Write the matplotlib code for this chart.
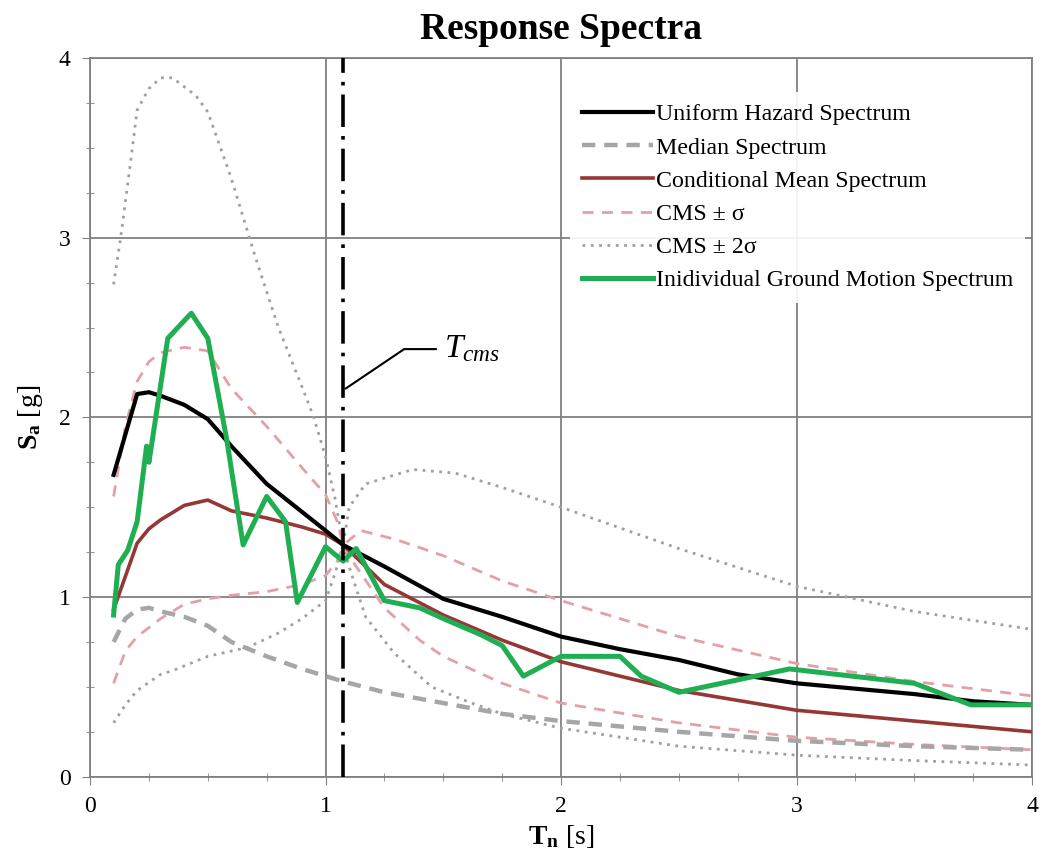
import matplotlib
matplotlib.use("Agg")
import matplotlib.pyplot as plt
from matplotlib.ticker import MultipleLocator

plt.rcParams['font.family'] = ['Liberation Serif', 'DejaVu Serif']
plt.rcParams['mathtext.fontset'] = 'custom'
plt.rcParams['mathtext.rm'] = 'Liberation Serif'
plt.rcParams['mathtext.it'] = 'Liberation Serif:italic'
plt.rcParams['mathtext.bf'] = 'Liberation Serif:bold'

# ---------------- data ----------------
T_cms = 1.075

uhs_T = [0.1, 0.2, 0.25, 0.3, 0.4, 0.5, 0.6, 0.75, 1.0, 1.075, 1.25, 1.5, 1.75, 2.0, 2.25, 2.5, 2.75, 3.0, 3.5, 3.75, 4.0]
uhs_Sa = [1.68, 2.13, 2.14, 2.12, 2.07, 1.99, 1.84, 1.63, 1.37, 1.29, 1.17, 0.99, 0.89, 0.78, 0.71, 0.65, 0.57, 0.52, 0.46, 0.42, 0.40]

med_T = [0.1, 0.15, 0.2, 0.25, 0.3, 0.4, 0.5, 0.6, 0.75, 0.9, 1.0, 1.075, 1.25, 1.5, 1.75, 2.0, 2.5, 3.0, 3.5, 4.0]
med_Sa = [0.75, 0.88, 0.93, 0.94, 0.92, 0.89, 0.84, 0.75, 0.67, 0.60, 0.56, 0.53, 0.47, 0.41, 0.35, 0.31, 0.25, 0.20, 0.17, 0.15]

cms_T = [0.1, 0.2, 0.25, 0.3, 0.4, 0.5, 0.6, 0.75, 0.9, 1.0, 1.075, 1.25, 1.5, 1.75, 2.0, 2.5, 3.0, 3.5, 4.0]
cms_Sa = [0.93, 1.30, 1.38, 1.43, 1.51, 1.54, 1.48, 1.44, 1.39, 1.35, 1.29, 1.07, 0.90, 0.76, 0.64, 0.48, 0.37, 0.31, 0.25]

p1_T = [0.1, 0.15, 0.2, 0.25, 0.3, 0.4, 0.5, 0.6, 0.75, 0.9, 1.0, 1.05, 1.075, 1.15, 1.3, 1.5, 1.75, 2.0, 2.5, 3.0, 3.5, 4.0]
p1_Sa = [1.56, 1.95, 2.20, 2.31, 2.36, 2.39, 2.37, 2.16, 1.95, 1.72, 1.57, 1.42, 1.29, 1.37, 1.32, 1.23, 1.09, 0.98, 0.78, 0.63, 0.53, 0.45]

m1_T = [0.1, 0.15, 0.2, 0.3, 0.4, 0.5, 0.6, 0.75, 0.9, 1.0, 1.05, 1.075, 1.12, 1.25, 1.4, 1.5, 1.75, 2.0, 2.5, 3.0, 3.5, 4.0]
m1_Sa = [0.52, 0.70, 0.78, 0.88, 0.96, 0.99, 1.01, 1.03, 1.07, 1.12, 1.20, 1.29, 1.19, 0.94, 0.76, 0.67, 0.52, 0.41, 0.30, 0.22, 0.18, 0.15]

p2_T = [0.1, 0.13, 0.17, 0.2, 0.25, 0.3, 0.35, 0.45, 0.5, 0.6, 0.7, 0.8, 0.9, 0.95, 1.0, 1.04, 1.075, 1.1, 1.17, 1.37, 1.55, 1.75, 2.0, 2.5, 3.0, 3.5, 4.0]
p2_Sa = [2.74, 3.00, 3.40, 3.71, 3.83, 3.89, 3.89, 3.79, 3.70, 3.33, 2.90, 2.50, 2.17, 2.00, 1.78, 1.55, 1.29, 1.50, 1.63, 1.71, 1.69, 1.61, 1.50, 1.27, 1.06, 0.92, 0.82]

m2_T = [0.1, 0.15, 0.2, 0.3, 0.35, 0.5, 0.67, 0.8, 0.9, 1.0, 1.04, 1.075, 1.1, 1.17, 1.29, 1.45, 1.62, 1.75, 2.0, 2.5, 3.0, 3.5, 4.0]
m2_Sa = [0.30, 0.40, 0.48, 0.57, 0.59, 0.67, 0.72, 0.80, 0.88, 0.98, 1.13, 1.29, 1.17, 0.89, 0.69, 0.50, 0.41, 0.35, 0.27, 0.17, 0.12, 0.09, 0.065]

gm_T = [0.1, 0.12, 0.16, 0.2, 0.24, 0.25, 0.33, 0.43, 0.5, 0.58, 0.65, 0.75, 0.83, 0.88, 1.0, 1.075, 1.13, 1.25, 1.4, 1.5, 1.66, 1.75, 1.84, 2.0, 2.25, 2.34, 2.5, 2.97, 3.5, 3.74, 4.0]
gm_Sa = [0.90, 1.18, 1.26, 1.42, 1.84, 1.75, 2.44, 2.58, 2.44, 1.88, 1.29, 1.56, 1.42, 0.97, 1.28, 1.20, 1.27, 0.98, 0.94, 0.88, 0.79, 0.73, 0.56, 0.67, 0.67, 0.56, 0.47, 0.60, 0.52, 0.40, 0.40]

labels = ["Uniform Hazard Spectrum", "Median Spectrum", "Conditional Mean Spectrum",
          "CMS ± σ", "CMS ± 2σ", "Inidividual Ground Motion Spectrum"]

# ---------------- figure ----------------
fig = plt.figure(figsize=(10.41, 8.56), dpi=100)
ax = fig.add_axes([0.0865, 0.0926, 0.9049, 0.8396])

grid_c = '#808080'
ax.set_xlim(0, 4)
ax.set_ylim(0, 4)
ax.xaxis.set_major_locator(MultipleLocator(1))
ax.yaxis.set_major_locator(MultipleLocator(1))
ax.xaxis.set_minor_locator(MultipleLocator(0.25))
ax.yaxis.set_minor_locator(MultipleLocator(0.25))
ax.grid(True, which='major', color=grid_c, lw=1.3, zorder=0)
for s in ax.spines.values():
    s.set_color(grid_c)
    s.set_linewidth(1.3)
ax.tick_params(which='major', direction='out', length=6, color=grid_c, labelsize=17, pad=8)
ax.tick_params(which='minor', direction='inout', length=6, color=grid_c)

pink = '#e3a0a6'
dotc = '#a0a0a0'

ax.plot(m2_T, m2_Sa, color=dotc, ls=(0, (1, 2)), lw=2.0, zorder=2)
ax.plot(p2_T, p2_Sa, color=dotc, ls=(0, (1, 2)), lw=2.0, zorder=2, label=labels[4])
ax.plot(m1_T, m1_Sa, color=pink, ls=(0, (4, 3)), lw=2.0, zorder=3)
ax.plot(p1_T, p1_Sa, color=pink, ls=(0, (4, 3)), lw=2.0, zorder=3, label=labels[3])
ax.plot(med_T, med_Sa, color='#a6a6a6', ls=(0, (3, 2)), lw=3.2, zorder=3, label=labels[1])
ax.plot(cms_T, cms_Sa, color='#953735', lw=2.6, zorder=4, label=labels[2])
ax.plot(uhs_T, uhs_Sa, color='black', lw=3.0, zorder=5, label=labels[0])
ax.plot(gm_T, gm_Sa, color='#1fae52', lw=3.6, zorder=6, label=labels[5])

ax.axvline(T_cms, color='black', lw=2.6, ls=(0, (9, 2.5, 1, 2.5)), zorder=7)

ax.annotate(r'$T_{cms}$', xy=(T_cms + 0.01, 2.16), xytext=(1.505, 2.38),
            fontsize=24, va='center', ha='left',
            arrowprops=dict(arrowstyle='-', color='black', lw=1.5,
                            connectionstyle='angle,angleA=0,angleB=34,rad=0',
                            shrinkA=4, shrinkB=0))

handles, labs = ax.get_legend_handles_labels()
order = [labs.index(l) for l in labels]
leg = ax.legend([handles[i] for i in order], [labs[i] for i in order],
                loc='upper right', bbox_to_anchor=(1.0, 0.963), fontsize=17.2,
                handlelength=3.0, handletextpad=0.1, labelspacing=0.48,
                frameon=True, fancybox=False, framealpha=0.9, edgecolor='none',
                borderaxespad=0.3, borderpad=0.5)
leg.set_zorder(10)

ax.set_title('Response Spectra', fontsize=27, fontweight='bold', pad=14)
ax.set_xlabel(r'$\mathbf{T}_\mathbf{n}$ [s]', fontsize=20, labelpad=4)
ax.set_ylabel(r'$\mathbf{S}_\mathbf{a}$ [g]', fontsize=20, labelpad=10)

fig.savefig('out.png', dpi=100)
